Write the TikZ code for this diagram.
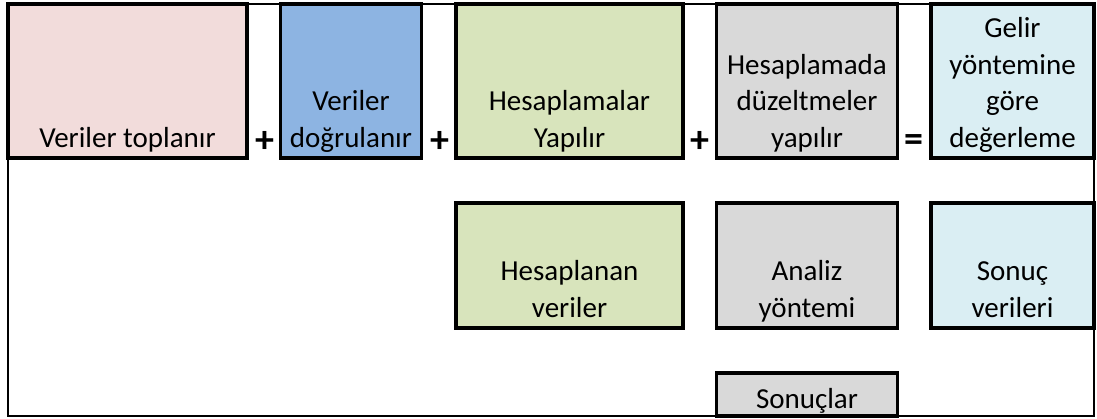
\documentclass[tikz,border=0pt]{standalone}
\usepackage{fontspec}
\setmainfont{Carlito}
\definecolor{pinkc}{HTML}{F2DCDB}
\definecolor{bluec}{HTML}{8DB4E2}
\definecolor{greenc}{HTML}{D8E4BC}
\definecolor{grayc}{HTML}{D9D9D9}
\definecolor{lbluec}{HTML}{DAEEF3}
\tikzset{
  cell/.style={draw=black, line width=3.4pt, inner sep=0pt, outer sep=0pt, anchor=north west},
  lbl/.style={align=center, inner sep=0pt, anchor=south, text depth=8pt,
    font=\fontsize{29}{36.8}\selectfont},
  op/.style={inner sep=0pt, font=\fontsize{38}{40}\selectfont\bfseries},
  frame/.style={draw=black, line width=2.8pt}
}
\begin{document}
\begin{tikzpicture}[x=1pt,y=-1pt]
\useasboundingbox (0,0) rectangle (1097,419);
% top row
\node[cell, fill=pinkc,  minimum width=239pt, minimum height=154pt] (b1) at (8,4) {};
\node[cell, fill=bluec,  minimum width=141pt, minimum height=154pt] (b2) at (280.5,4) {};
\node[cell, fill=greenc, minimum width=227pt, minimum height=154pt] (b3) at (456,4) {};
\node[cell, fill=grayc,  minimum width=181pt, minimum height=154pt] (b4) at (716.5,4) {};
\node[cell, fill=lbluec, minimum width=163pt, minimum height=154pt] (b5) at (931,4) {};
% second row
\node[cell, fill=greenc, minimum width=227pt, minimum height=125pt] (c3) at (456,203) {};
\node[cell, fill=grayc,  minimum width=181pt, minimum height=125pt] (c4) at (716.5,203) {};
\node[cell, fill=lbluec, minimum width=163pt, minimum height=125pt] (c5) at (931,203) {};
% third row
\node[cell, fill=grayc,  minimum width=181pt, minimum height=43pt] (d4) at (716.5,373) {};
% labels
\node[lbl] (t1) at ([yshift=2pt]b1.south) {Veriler toplanır};
\node[lbl] (t2) at ([yshift=2pt]b2.south) {Veriler\\doğrulanır};
\node[lbl] (t3) at ([yshift=2pt]b3.south) {Hesaplamalar\\Yapılır};
\node[lbl] (t4) at ([yshift=2pt]b4.south) {Hesaplamada\\düzeltmeler\\yapılır};
\node[lbl] (t5) at ([yshift=2pt]b5.south) {Gelir\\yöntemine\\göre\\değerleme};
\node[lbl] (u3) at ([yshift=2pt]c3.south) {Hesaplanan\\veriler};
\node[lbl] (u4) at ([yshift=2pt]c4.south) {Analiz\\yöntemi};
\node[lbl] (u5) at ([yshift=2pt]c5.south) {Sonuç\\verileri};
\node[lbl] (v4) at (807,417) {Sonuçlar};
% operators
\node[op] (p1) at (265,142) {+};
\node[op] (p2) at (440,142) {+};
\node[op] (p3) at (700,142) {+};
\node[op] (e1) at (914,143) {=};
% frame
\draw[frame] (8,4) rectangle (1094,416);
\end{tikzpicture}
\end{document}
